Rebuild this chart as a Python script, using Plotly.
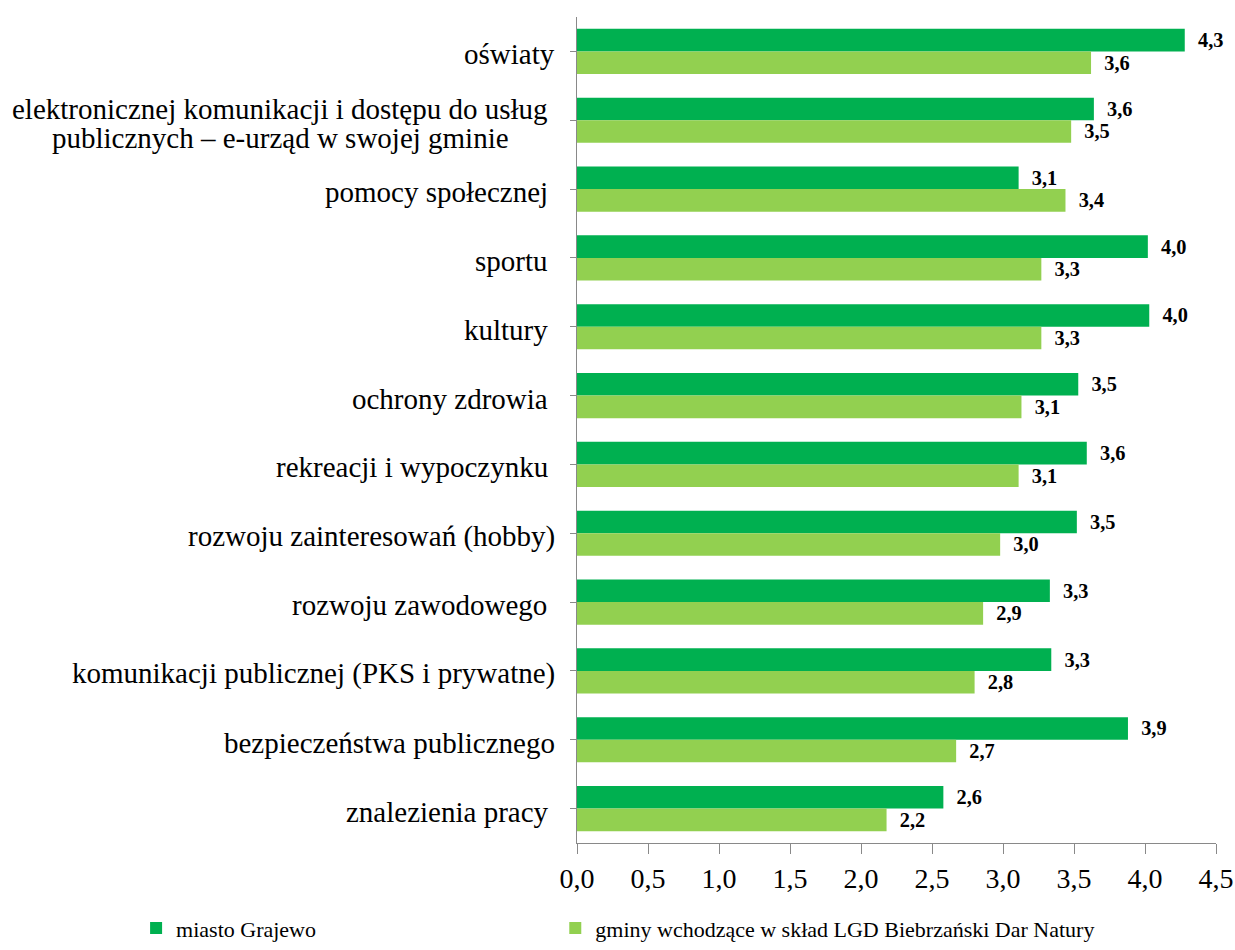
import plotly.graph_objects as go

categories = [
    "oświaty",
    "elektronicznej komunikacji i dostępu do usług<br>publicznych – e-urząd w swojej gminie",
    "pomocy społecznej\u00a0",
    "sportu\u00a0",
    "kultury\u00a0",
    "ochrony zdrowia\u00a0",
    "rekreacji i wypoczynku\u00a0",
    "rozwoju zainteresowań (hobby)",
    "rozwoju zawodowego\u00a0",
    "komunikacji publicznej (PKS i prywatne)",
    "bezpieczeństwa publicznego",
    "znalezienia pracy\u00a0",
]
grajewo = [4.28, 3.64, 3.11, 4.02, 4.03, 3.53, 3.59, 3.52, 3.33, 3.34, 3.88, 2.58]
gminy = [3.62, 3.48, 3.44, 3.27, 3.27, 3.13, 3.11, 2.98, 2.86, 2.80, 2.67, 2.18]
series_names = ["miasto Grajewo", "gminy wchodzące w skład LGD Biebrzański Dar Natury"]
x_ticks = [0, 0.5, 1.0, 1.5, 2.0, 2.5, 3.0, 3.5, 4.0, 4.5]

FONT = "Liberation Serif"
colors = ["#00B050", "#92D050"]
legend_ids = ["legend", "legend2"]

fig = go.Figure()
for name, vals, col, lg in zip(series_names, [grajewo, gminy], colors, legend_ids):
    fig.add_trace(go.Bar(
        y=list(range(len(categories))), x=vals, name=name, orientation="h",
        marker=dict(color=col, line=dict(width=0)),
        texttemplate="\u00a0\u00a0%{x:.1f}", textposition="outside",
        textfont=dict(family=FONT, size=28, color="black", weight="bold"),
        cliponaxis=False, legend=lg,
    ))

LABEL_SIZE = 29
for i, c in enumerate(categories):
    lines = c.split("<br>")
    if len(lines) == 1:
        fig.add_annotation(
            x=0, xref="paper", xanchor="right", xshift=-20,
            y=i, yref="y", yanchor="middle", yshift=-3,
            text=c, showarrow=False,
            font=dict(family=FONT, size=LABEL_SIZE, color="black"),
        )
    else:
        n = len(lines)
        for k, ln in enumerate(lines):
            fig.add_annotation(
                x=-0.4645, xref="paper", xanchor="center",
                y=i, yref="y", yanchor="middle",
                yshift=-3 + ((n - 1) / 2 - k) * 29,
                text=ln, showarrow=False,
                font=dict(family=FONT, size=LABEL_SIZE, color="black"),
            )

fig.update_layout(
    width=1235, height=950,
    separators=", ",
    barmode="group", bargap=0.345, bargroupgap=0,
    plot_bgcolor="white", paper_bgcolor="white",
    margin=dict(l=577, r=19, t=17, b=107),
    font=dict(family=FONT, size=26, color="black"),
    xaxis=dict(
        range=[0, 4.5], tickvals=x_ticks, tickformat=".1f",
        showgrid=False, zeroline=False,
        showline=True, linecolor="#898989", linewidth=1,
        ticks="outside", ticklen=10, tickcolor="#898989",
        tickfont=dict(family=FONT, size=28, color="black"),
        ticklabelstandoff=0, automargin=False,
    ),
    yaxis=dict(
        autorange="reversed",
        tickvals=list(range(len(categories))), showticklabels=False,
        showgrid=False, zeroline=False,
        showline=True, linecolor="#898989", linewidth=1,
        ticks="outside", ticklen=6, tickcolor="#898989",
        automargin=False,
    ),
    legend=dict(
        orientation="h", x=-0.690, xanchor="left",
        yref="container", y=0.023, yanchor="middle",
        font=dict(family=FONT, size=22, color="black"), itemwidth=30,
        bgcolor="rgba(0,0,0,0)",
    ),
    legend2=dict(
        orientation="h", x=-0.034, xanchor="left",
        yref="container", y=0.023, yanchor="middle",
        font=dict(family=FONT, size=22, color="black"), itemwidth=30,
        bgcolor="rgba(0,0,0,0)",
    ),
    showlegend=True,
)

fig.write_html(
    "out.html",
    config={"displayModeBar": False},
    post_script="document.body.style.margin='0';",
)
